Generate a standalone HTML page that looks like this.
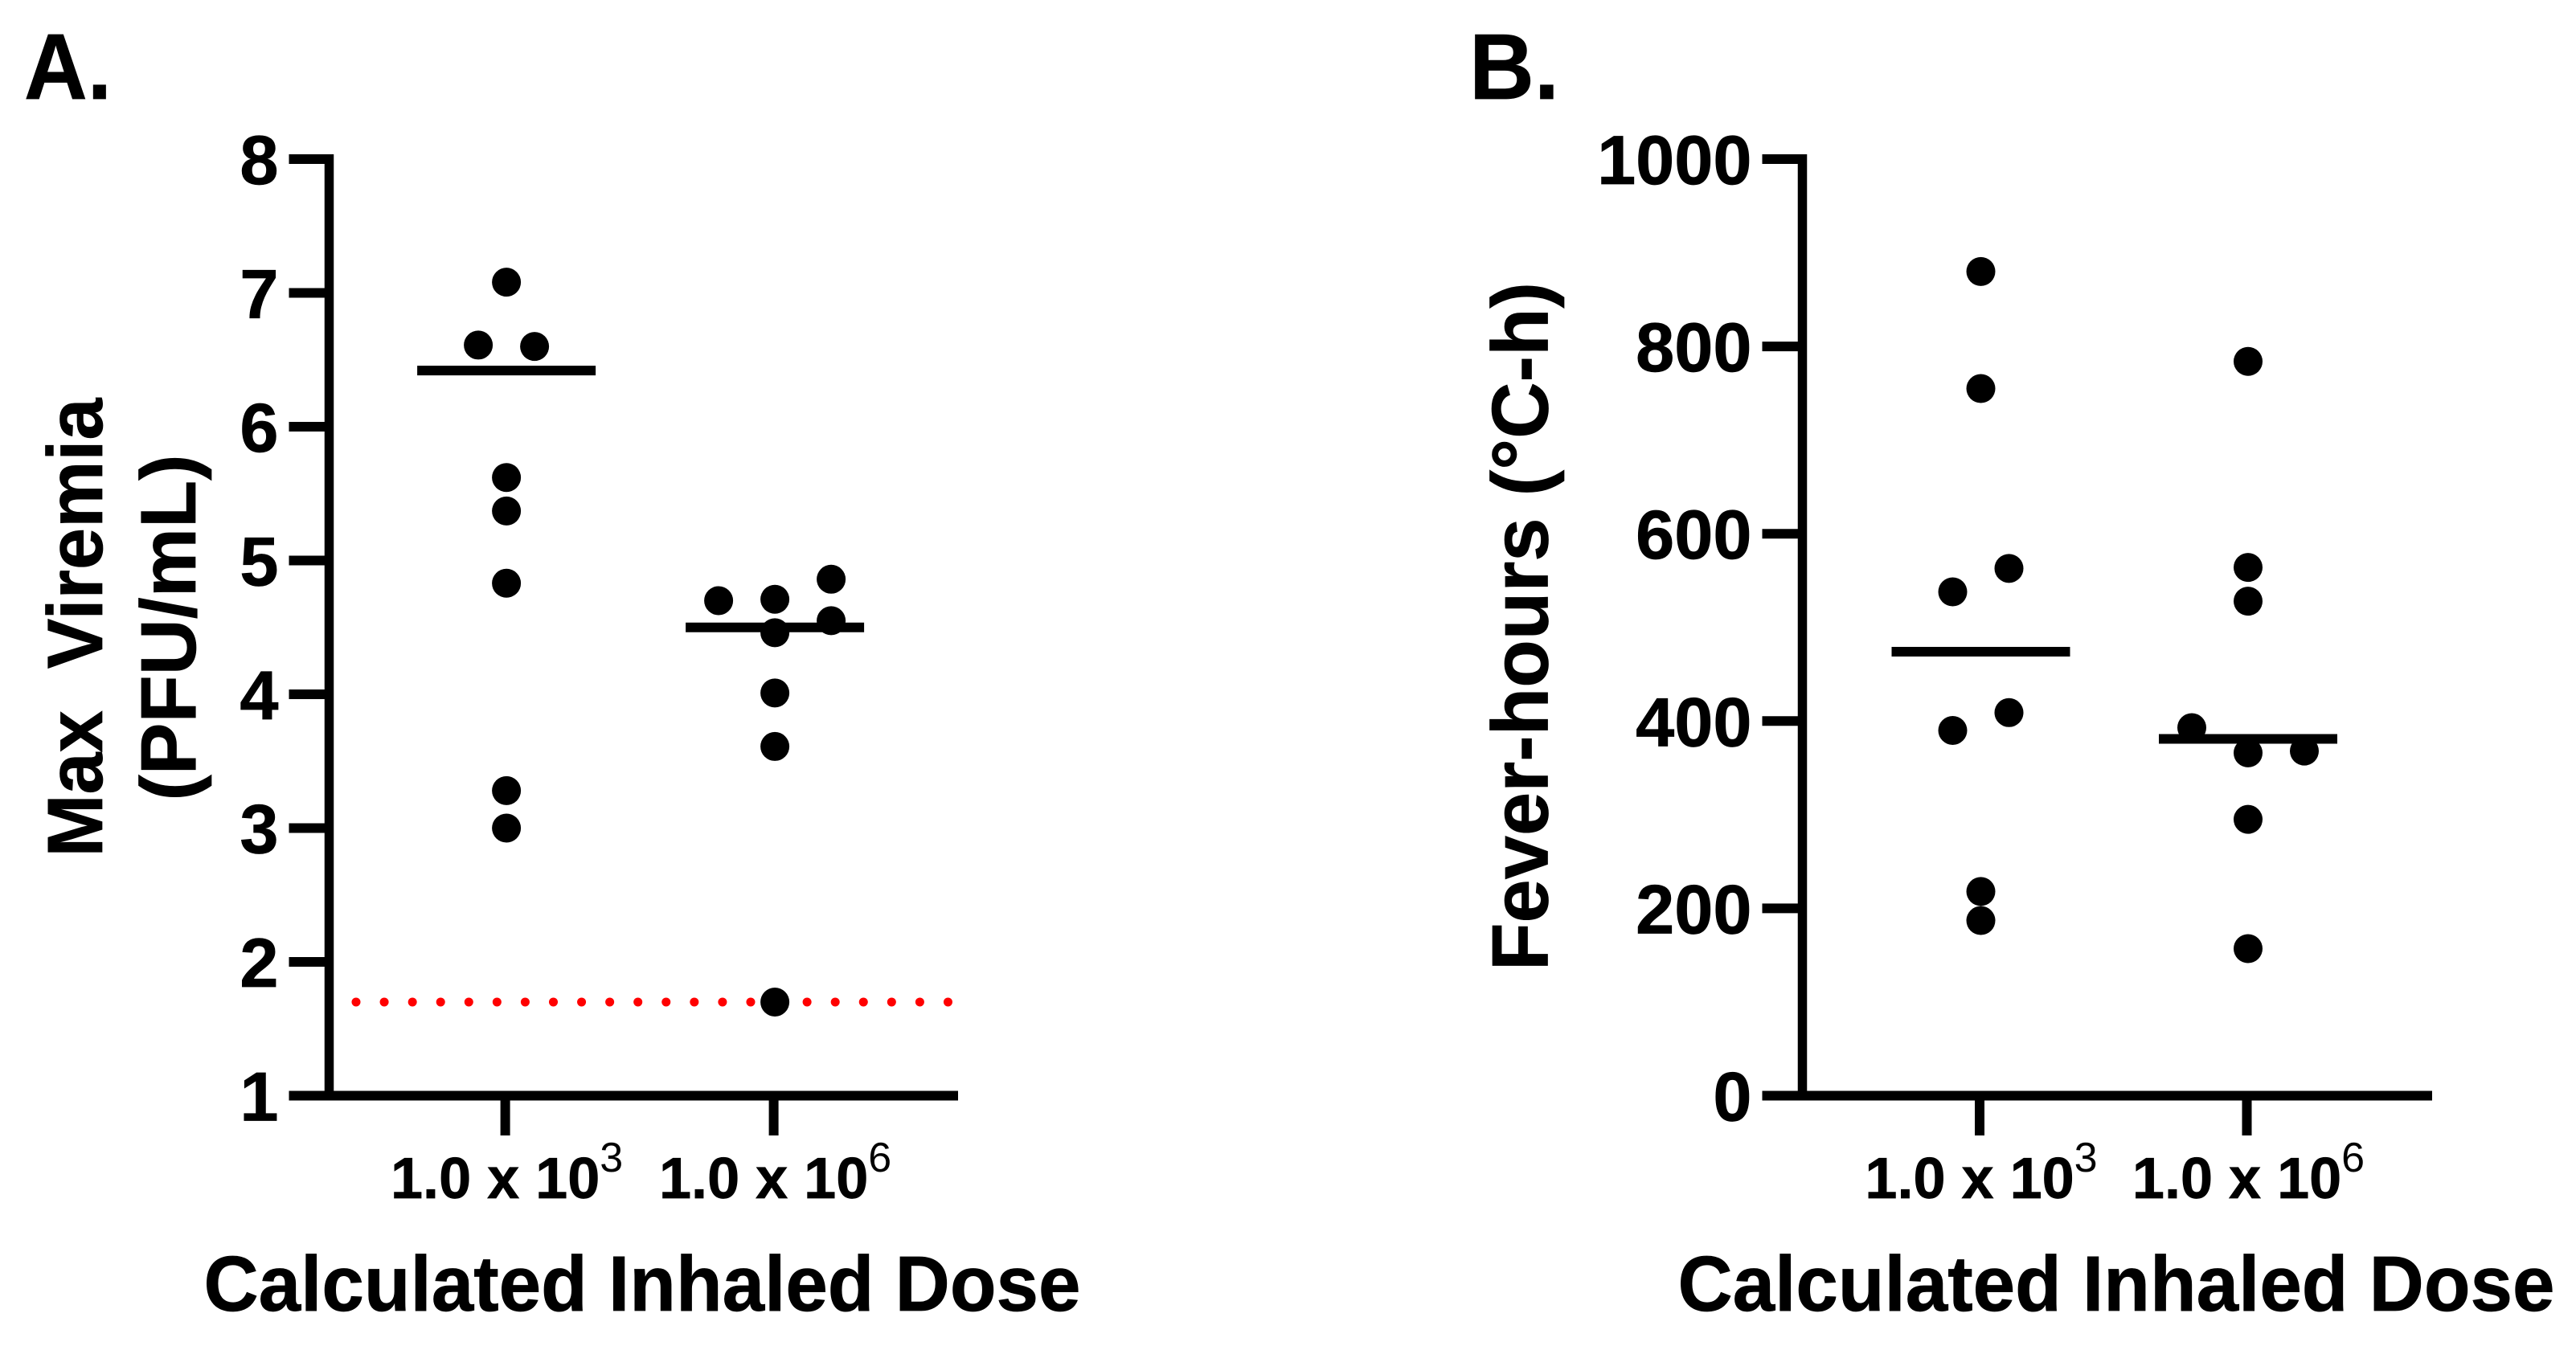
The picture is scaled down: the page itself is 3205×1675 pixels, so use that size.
<!DOCTYPE html>
<html lang="en">
<head>
<meta charset="utf-8">
<title>Max Viremia and Fever-hours by Calculated Inhaled Dose</title>
<style>
  html, body { margin: 0; padding: 0; background: #fff; }
  svg { display: block; }
  text { font-family: "Liberation Sans", Arial, sans-serif; font-weight: bold; fill: #000; stroke: #000; stroke-width: 0.7px; white-space: pre; }
</style>
</head>
<body>
<svg id="figure" xmlns="http://www.w3.org/2000/svg" width="3205" height="1675" viewBox="0 0 3205 1675">
  <rect x="0" y="0" width="3205" height="1675" fill="#fff"/>
  <text x="30" y="123" font-size="116" textLength="109" lengthAdjust="spacingAndGlyphs">A.</text>
  <text x="1828" y="123" font-size="116" textLength="112" lengthAdjust="spacingAndGlyphs">B.</text>
  <text transform="translate(127 781) rotate(-90)" text-anchor="middle" font-size="97" textLength="571" lengthAdjust="spacingAndGlyphs">Max  Viremia</text>
  <text transform="translate(243 781) rotate(-90)" text-anchor="middle" font-size="97">(PFU/mL)</text>
  <text transform="translate(1925.5 779.5) rotate(-90)" text-anchor="middle" font-size="99" textLength="857" lengthAdjust="spacingAndGlyphs">Fever-hours (°C-h)</text>
  <text x="799" y="1631" text-anchor="middle" font-size="97" textLength="1091" lengthAdjust="spacingAndGlyphs">Calculated Inhaled Dose</text>
  <text x="2633" y="1631" text-anchor="middle" font-size="97" textLength="1091" lengthAdjust="spacingAndGlyphs">Calculated Inhaled Dose</text>
  <g id="panel-a"></g>
  <g id="panel-b"></g>
</svg>
<script>
// ---- data ----
const doseLabels = ['1.0 x 10', '1.0 x 10'];
const doseExponents = ['3', '6'];

const viremiaTicks = [1, 2, 3, 4, 5, 6, 7, 8];
const viremiaLow = [7.08, 6.61, 6.60, 5.62, 5.37, 4.83, 3.28, 3.00];
const viremiaHigh = [4.86, 4.71, 4.70, 4.55, 4.46, 4.01, 3.61, 1.70];
const viremiaMeans = [6.42, 4.50];
const detectionLimit = [1.7];

const feverTicks = [0, 200, 400, 600, 800, 1000];
const feverLow = [880, 755, 563, 538, 409, 390, 218, 187];
const feverHigh = [784, 564, 528, 393, 368, 366, 295, 157];
const feverMeans = [474, 381];

// swarm column of each point (categorical slot, same order as the values)
const viremiaLowSlots = [0, -1, 1, 0, 0, 0, 0, 0];
const viremiaHighSlots = [2, 0, -2, 2, 0, 0, 0, 0];
const feverLowSlots = [0, 0, 1, -1, 1, -1, 0, 0];
const feverHighSlots = [0, 0, 0, -2, 2, 0, 0, 0];

// ---- rendering ----
const NS = 'http://www.w3.org/2000/svg';

function make(parent, tag, attrs) {
  const el = document.createElementNS(NS, tag);
  for (const k in attrs) el.setAttribute(k, attrs[k]);
  parent.appendChild(el);
  return el;
}

function drawPanel(cfg) {
  const g = document.getElementById(cfg.id);
  const top = 198, bottom = 1363.5;
  const yScale = v => bottom - (v - cfg.yMin) / (cfg.yMax - cfg.yMin) * (bottom - top);
  const xScale = i => cfg.x0 + i * cfg.step;
  const markShift = 1.5;

  // y axis spine
  const spine = make(g, 'line', { x1: cfg.spineX, x2: cfg.spineX, y1: top - 6, y2: bottom, stroke: '#000', 'stroke-width': 11.5 });
  
  

  // x axis line
  const xAxis = make(g, 'line', { x1: cfg.spineX - 50, x2: cfg.xEnd, y1: bottom, y2: bottom, stroke: '#000', 'stroke-width': 12 });
  
  

  // y ticks and labels
  cfg.ticks.forEach(t => {
    const y = yScale(t);
    const tick = make(g, 'line', { x1: cfg.spineX - 50, x2: cfg.spineX, y1: y, y2: y, stroke: '#000', 'stroke-width': 12 });
    
    
    const label = make(g, 'text', { x: cfg.spineX - 63, y: y + 31, 'text-anchor': 'end', 'font-size': 86.5 });
    label.textContent = String(t);
    
    
  });

  // x ticks and labels
  doseLabels.forEach((name, i) => {
    const x = xScale(i);
    const tick = make(g, 'line', { x1: x, x2: x, y1: bottom, y2: 1413, stroke: '#000', 'stroke-width': 12 });
    
    
    const label = make(g, 'text', { x: x + 2, y: 1491, 'text-anchor': 'middle', 'font-size': 72 });
    
    
    const base = make(label, 'tspan', {});
    base.textContent = name;
    const sup = make(label, 'tspan', { dy: -33, 'font-size': 52, style: 'font-weight:normal;stroke:none' });
    sup.textContent = doseExponents[i];
  });

  // optional reference line
  if (cfg.limit) {
    const ly = yScale(cfg.limit[0]);
    const limit = make(g, 'line', { x1: cfg.limitX1, x2: cfg.limitX2, y1: ly, y2: ly, stroke: '#f00', 'stroke-width': 11, 'stroke-linecap': 'round', 'stroke-dasharray': '0 35.07' });
    
    
  }

  // series points
  cfg.series.forEach((values, s) => {
    values.forEach((v, j) => {
      const dot = make(g, 'circle', { cx: xScale(s) + markShift + cfg.slots[s][j] * 35, cy: yScale(v), r: 18, fill: '#000' });
      
      
    });
  });

  // mean lines
  cfg.means.forEach((m, s) => {
    const cx = xScale(s) + markShift;
    const my = yScale(m);
    const mean = make(g, 'line', { x1: cx - 111, x2: cx + 111, y1: my, y2: my, stroke: '#000', 'stroke-width': 12 });
    
    
  });
}

drawPanel({
  id: 'panel-a', yMin: 1, yMax: 8, ticks: viremiaTicks,
  spineX: 409.5, xEnd: 1192, x0: 628.6, step: 334,
  series: [viremiaLow, viremiaHigh], slots: [viremiaLowSlots, viremiaHighSlots], means: viremiaMeans,
  limit: detectionLimit, limitX1: 443, limitX2: 1185
});

drawPanel({
  id: 'panel-b', yMin: 0, yMax: 1000, ticks: feverTicks,
  spineX: 2242.5, xEnd: 3026, x0: 2463, step: 332.5,
  series: [feverLow, feverHigh], slots: [feverLowSlots, feverHighSlots], means: feverMeans
});
</script>
</body>
</html>
